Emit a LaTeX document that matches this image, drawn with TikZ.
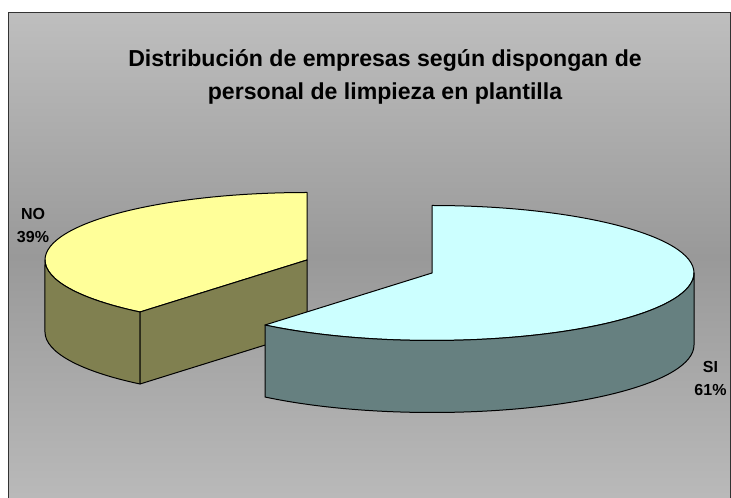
\documentclass[tikz,border=0pt]{standalone}
\usepackage{fontspec}
\setmainfont{Liberation Sans}
\definecolor{notop}{HTML}{FFFF99}
\definecolor{noside}{HTML}{808050}
\definecolor{sitop}{HTML}{CCFFFF}
\definecolor{siside}{HTML}{668080}
\begin{document}
\begin{tikzpicture}[x=1pt, y=1pt,
  slice/.style={draw=black, line width=1pt, line join=round},
  pct/.style={font=\fontsize{16}{23}\selectfont\bfseries, align=center, inner sep=0pt, anchor=base}]
\useasboundingbox (0,0) rectangle (731,498);
% chart area
\begin{scope}
\clip (8,-2) rectangle (730.5,485);
\shade[rotate around={33.9:(369,241.5)}, top color=white, bottom color=white!95!black, middle color=black!40]
  (-231,-161.5) rectangle (969,644.5);
\end{scope}
\draw[line width=1pt, black!80] (8,-2) rectangle (730.5,485);
\node[font=\fontsize{23.1}{33.3}\selectfont\bfseries, align=center, inner sep=0pt, anchor=base] (title) at (385,398)
  {Distribución de empresas según dispongan de\\personal de limpieza en plantilla};
% NO slice
\draw[slice, fill=notop] (307,238) -- (307,305.5) arc[start angle=90, end angle=230.4, x radius=262, y radius=67.5] -- cycle;
\draw[slice, fill=noside] (45,238) arc[start angle=180, end angle=230.4, x radius=262, y radius=67.5]
  -- (140,114) arc[start angle=230.4, end angle=180, x radius=262, y radius=67.5] -- cycle;
\draw[slice, fill=noside] (307,238) -- (140,186) -- (140,114) -- (307,166) -- cycle;
% SI slice
\draw[slice, fill=sitop] (432,225) -- (432,292.5) arc[start angle=90, end angle=-129.6, x radius=262, y radius=67.5] -- cycle;
\draw[slice, fill=siside] (265,173) arc[start angle=230.4, end angle=360, x radius=262, y radius=67.5]
  -- (694,153) arc[start angle=0, end angle=-129.6, x radius=262, y radius=67.5] -- cycle;
\node[pct] (lblno) at (33,255.3) {NO\\39\%};
\node[pct] (lblsi) at (710.5,102.3) {SI\\61\%};
\end{tikzpicture}
\end{document}
